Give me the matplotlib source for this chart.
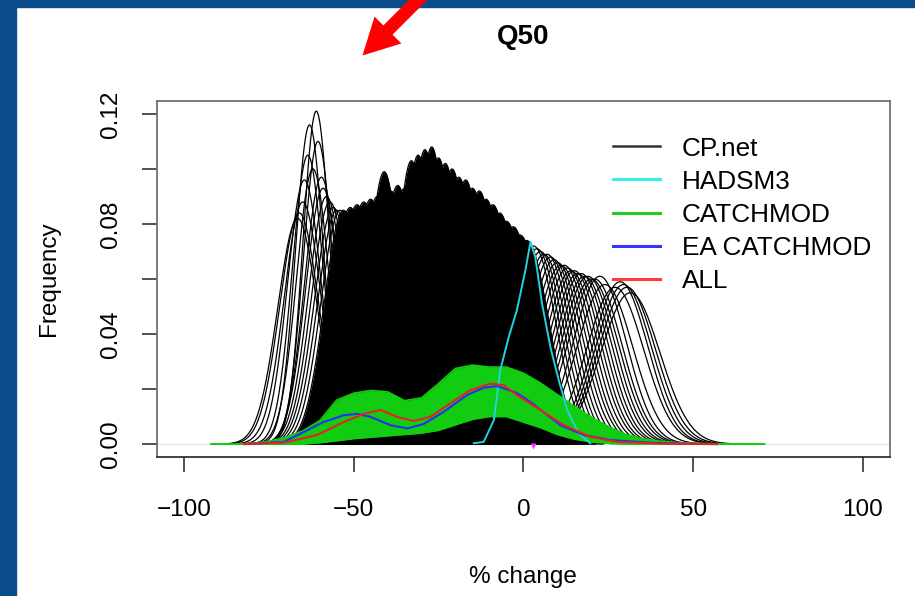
import numpy as np
import matplotlib.pyplot as plt
from matplotlib.lines import Line2D
from matplotlib.patches import Rectangle, FancyArrow

plt.rcParams['font.family'] = ['Liberation Sans', 'DejaVu Sans']

# CP.net ensemble: each curve given by its peak position (% change) and peak density
cp_left_peaks = [-66.5, -66, -65, -64.5, -63.5, -63, -62, -61, -60.5, -59.5, -59, -58, -57,
                 -56, -55, -54]
cp_left_heights = [0.082, 0.084, 0.088, 0.096, 0.105, 0.116, 0.100, 0.121, 0.110, 0.097,
                   0.093, 0.090, 0.088, 0.086, 0.085, 0.085]
cp_core_peaks = [-53, -51, -49, -47, -45, -43, -41, -39, -37, -35, -33, -31, -29, -27, -25,
                 -23, -21, -19, -17, -15, -13, -11, -9, -7, -5, -3, -1, 1]
cp_core_heights = [0.085, 0.086, 0.087, 0.088, 0.089, 0.090, 0.099, 0.092, 0.094, 0.093,
                   0.103, 0.105, 0.107, 0.108, 0.104, 0.102, 0.100, 0.097, 0.096, 0.093,
                   0.092, 0.089, 0.087, 0.084, 0.081, 0.079, 0.076, 0.074]
cp_right_peaks = [3, 4, 5, 6, 7, 8, 9, 10, 11, 12, 13, 14, 15, 16, 17, 18, 19, 20, 21, 22.5,
                  24, 27, 28.5, 29.5, 30.5, 31.5]
cp_right_heights = [0.072, 0.071, 0.070, 0.069, 0.069, 0.068, 0.067, 0.066, 0.065, 0.065,
                    0.064, 0.063, 0.063, 0.062, 0.062, 0.061, 0.061, 0.060, 0.060, 0.061,
                    0.058, 0.057, 0.059, 0.058, 0.057, 0.055]

# HADSM3
hadsm3_x = [-14.6, -11.7, -8.7, -6.8, -4.3, -1.9, 0.6, 2.1, 3.5, 5.5, 8.0, 10.4, 12.9, 16.3, 19.7]
hadsm3_y = [0.0003, 0.0008, 0.0087, 0.0269, 0.039, 0.0487, 0.0632, 0.0735, 0.068, 0.051,
            0.035, 0.0233, 0.0124, 0.0039, 0.0003]

# EA CATCHMOD
ea_x = [-82, -70.6, -63.7, -58.9, -52.9, -49, -45, -39.2, -34.2, -29.4, -23.5, -16.6, -11.7,
        -7.7, -1.9, 3, 5, 10.9, 17.8, 25.6, 37.4, 50, 57]
ea_y = [0.0, 0.0008, 0.005, 0.008, 0.0105, 0.011, 0.0099, 0.0069, 0.0057, 0.0073, 0.0117,
        0.0178, 0.0205, 0.0211, 0.0186, 0.0145, 0.0125, 0.0069, 0.0033, 0.0015, 0.0005, 0.0001, 0.0]

# ALL
all_x = [-82.3, -70.6, -60.8, -52.9, -47, -42.1, -37.2, -32.3, -27.4, -21.5, -15.6, -9.7,
         -5.8, -1.9, 5, 11.9, 19.7, 27.6, 40, 57]
all_y = [0.0, 0.0005, 0.0033, 0.008, 0.011, 0.0124, 0.0099, 0.0084, 0.0099, 0.0148, 0.0196,
         0.022, 0.0214, 0.0178, 0.0124, 0.0069, 0.0027, 0.0008, 0.0002, 0.0]

# CATCHMOD ensemble spread
catch_x = [-92, -85, -80, -75, -70, -65, -60, -55, -50, -45, -40, -35, -30, -25, -20, -15,
           -10, -5, 0, 5, 10, 15, 20, 25, 30, 35, 40, 45, 50, 55, 60, 65, 71]
catch_upper = [0, 0, 0.0003, 0.001, 0.0025, 0.0048, 0.0085, 0.016, 0.0185, 0.0195, 0.019,
               0.0158, 0.0168, 0.022, 0.0275, 0.0287, 0.028, 0.028, 0.0258, 0.0222, 0.018,
               0.0138, 0.0098, 0.0064, 0.0036, 0.002, 0.0011, 0.0006, 0.0003, 0.0002, 0.0001,
               0.00005, 0]
catch_lower = [0, 0, 0, 0, 0, 0, 0.0005, 0.0012, 0.002, 0.0025, 0.003, 0.0035, 0.004, 0.005,
               0.007, 0.009, 0.010, 0.010, 0.008, 0.006, 0.0035, 0.0018, 0.0008, 0.0003, 0, 0,
               0, 0, 0, 0, 0, 0, 0]

obs_x = [2.7]
obs_y = [-0.0008]


def density_curve(peak, height, spread=1.2):
    sd = spread / (height * np.sqrt(2 * np.pi))
    x = np.linspace(peak - 3.5 * sd, peak + 3.5 * sd, 300)
    return x, height * np.exp(-0.5 * ((x - peak) / sd) ** 2)


fig = plt.figure(figsize=(9.15, 5.96), dpi=100)
fig.patches.append(Rectangle((0, 0), 16 / 915, 1, transform=fig.transFigure,
                             color='#0b4d8c', zorder=0))
fig.patches.append(Rectangle((0, 1 - 7 / 596), 1, 7 / 596, transform=fig.transFigure,
                             color='#0b4d8c', zorder=0))

ax = fig.add_axes([0.1713, 0.2327, 0.8014, 0.5983])
ax.set_xlim(-108, 108)
ax.set_ylim(-0.0048, 0.1248)

ax.axhline(0, color='#e6e6e6', lw=1, zorder=1)

for p, h in zip(cp_core_peaks, cp_core_heights):
    x, y = density_curve(p, h)
    ax.fill_between(x, 0, y, color='black', lw=0, zorder=2)
    ax.plot(x, y, color='black', lw=0.9, zorder=2)
for p, h in zip(cp_left_peaks + cp_right_peaks, cp_left_heights + cp_right_heights):
    x, y = density_curve(p, h)
    ax.plot(x, y, color='black', lw=0.9, zorder=2)

ax.fill_between(catch_x, catch_lower, catch_upper, color='#11cc11', lw=0, zorder=3)
ax.plot(catch_x, catch_upper, color='#11cc11', lw=1.2, zorder=3)
ax.plot(catch_x, catch_lower, color='#11cc11', lw=1.2, zorder=3)

ax.plot(hadsm3_x, hadsm3_y, color='#22d4dc', lw=1.4, zorder=4)
ax.plot(ea_x, ea_y, color='#2233ee', lw=1.5, zorder=5)
ax.plot(all_x, all_y, color='#e62222', lw=1.5, zorder=6)
ax.plot(obs_x, obs_y, 'v', color='#ff33ff', ms=5, mec='none', zorder=7)

for s in ax.spines.values():
    s.set_color('#666666')
    s.set_linewidth(1.2)
ax.spines['bottom'].set_color('#222222')

ax.set_xticks([-100, -50, 0, 50, 100])
ax.set_xticklabels(['\u2212100', '\u221250', '0', '50', '100'])
ax.set_yticks([0.00, 0.02, 0.04, 0.06, 0.08, 0.10, 0.12])
ax.set_yticklabels(['0.00', '', '0.04', '', '0.08', '', '0.12'], rotation=90, va='center')
ax.tick_params(axis='both', length=11, width=1.2, color='#333333', labelsize=17.5)
ax.tick_params(axis='x', pad=19)
ax.tick_params(axis='y', pad=14)

fig.text(523 / 915, 1 - 37 / 596, 'Q50', fontsize=20, fontweight='bold',
         ha='center', va='center')
ax.set_xlabel('% change', fontsize=17.5)
ax.xaxis.set_label_coords(0.5, -0.305)
ax.set_ylabel('Frequency', fontsize=17.5)
ax.yaxis.set_label_coords(-0.132, 0.5)

handles = [Line2D([], [], color='#333333', lw=1.8),
           Line2D([], [], color='#33eeee', lw=2.2),
           Line2D([], [], color='#22cc22', lw=2.2),
           Line2D([], [], color='#3333ff', lw=2.2),
           Line2D([], [], color='#ff3b3b', lw=2.2)]
ax.legend(handles, ['CP.net', 'HADSM3', 'CATCHMOD', 'EA CATCHMOD', 'ALL'],
          loc='upper left', bbox_to_anchor=(0.622, 0.8995), frameon=False,
          fontsize=18.8, handlelength=1.8, handletextpad=0.85, labelspacing=0.347,
          borderpad=0, borderaxespad=0)

fig.patches.append(FancyArrow(4.28, 6.06, -0.655, -0.655, width=0.13, head_width=0.38,
                              head_length=0.36, length_includes_head=True,
                              transform=fig.dpi_scale_trans, color='#ff0000', lw=0,
                              zorder=5))

fig.savefig('out.png', dpi=100, facecolor='white')
